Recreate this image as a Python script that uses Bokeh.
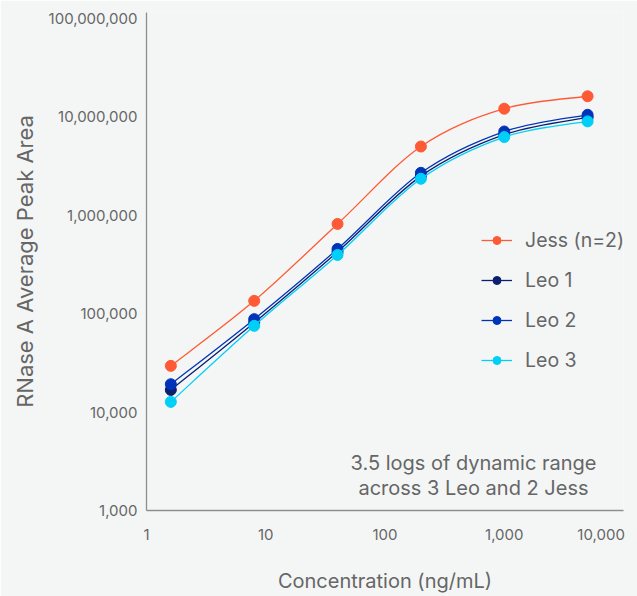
import numpy as np
from bokeh.plotting import figure
from bokeh.models import FixedTicker, NumeralTickFormatter, Legend, LegendItem, Label, Range1d
from bokeh.embed import file_html
from bokeh.resources import INLINE

# ---- data ----
concentration = [1.6, 8, 40, 200, 1000, 5000]          # ng/mL
jess = [29500, 135000, 817000, 5.0e6, 1.21e7, 1.62e7]
leo1 = [16800, 81000, 425000, 2.5e6, 6.6e6, 9.9e6]
leo2 = [19200, 88000, 455000, 2.7e6, 7.1e6, 1.05e7]
leo3 = [12700, 75300, 395000, 2.35e6, 6.24e6, 9.0e6]
series_names = ["Jess (n=2)", "Leo 1", "Leo 2", "Leo 3"]
series_colors = ["#FF5A36", "#0A1F6E", "#0033B8", "#00CFF8"]
x_ticks = [1, 10, 100, 1000, 10000]
y_ticks = [1e3, 1e4, 1e5, 1e6, 1e7, 1e8]
annotation = "3.5 logs of dynamic range\nacross 3 Leo and 2 Jess"

BG = "#F4F6F6"
TXT = "#666666"
FONT = "Inter"


def smooth_segments(xs, ys):
    """Catmull-Rom curve through the data points (in log space) as Bezier pieces."""
    lx = np.log10(np.asarray(xs, dtype=float))
    ly = np.log10(np.asarray(ys, dtype=float))
    px = np.concatenate([[lx[0]], lx, [lx[-1]]])
    py = np.concatenate([[ly[0]], ly, [ly[-1]]])
    seg = dict(x0=[], y0=[], x1=[], y1=[], cx0=[], cy0=[], cx1=[], cy1=[])
    for i in range(1, len(px) - 2):
        seg["x0"].append(10 ** px[i]); seg["y0"].append(10 ** py[i])
        seg["x1"].append(10 ** px[i + 1]); seg["y1"].append(10 ** py[i + 1])
        seg["cx0"].append(10 ** (px[i] + (px[i + 1] - px[i - 1]) / 6))
        seg["cy0"].append(10 ** (py[i] + (py[i + 1] - py[i - 1]) / 6))
        seg["cx1"].append(10 ** (px[i + 1] - (px[i + 2] - px[i]) / 6))
        seg["cy1"].append(10 ** (py[i + 1] - (py[i + 2] - py[i]) / 6))
    return seg


p = figure(width=637, height=596, x_axis_type="log", y_axis_type="log",
           x_range=Range1d(1, 10000), y_range=Range1d(1000, 1.15e8),
           output_backend="svg", toolbar_location=None,
           background_fill_color=BG, border_fill_color=BG,
           min_border_left=146, min_border_right=14, min_border_top=12, min_border_bottom=86)
p.outline_line_color = None
p.grid.visible = False

items = []
for name, vals, col in zip(series_names, [jess, leo1, leo2, leo3], series_colors):
    seg = smooth_segments(concentration, vals)
    r_line = p.bezier(x0=seg["x0"], y0=seg["y0"], x1=seg["x1"], y1=seg["y1"],
                      cx0=seg["cx0"], cy0=seg["cy0"], cx1=seg["cx1"], cy1=seg["cy1"],
                      line_color=col, line_width=1.3)
    r_pts = p.scatter(concentration, vals, size=11, fill_color=col, line_color=col)
    items.append(LegendItem(label=name, renderers=[r_line, r_pts]))

legend = Legend(items=items, location=(335, 138), orientation="vertical",
                glyph_width=31, glyph_height=20, label_height=20, label_standoff=13,
                spacing=16, padding=0, margin=0, border_line_color=None,
                background_fill_alpha=0, label_text_font=FONT,
                label_text_font_size="19.5px", label_text_color=TXT)
p.add_layout(legend)

for ax in (p.xaxis[0], p.yaxis[0]):
    ax.axis_line_color = "#8E8E8E"
    ax.axis_line_width = 1.3
    ax.major_tick_out = 0
    ax.major_tick_in = 0
    ax.minor_tick_out = 0
    ax.minor_tick_in = 0
    ax.major_label_text_font = FONT
    ax.major_label_text_font_size = "15px"
    ax.major_label_text_color = TXT
    ax.axis_label_text_font = FONT
    ax.axis_label_text_font_style = "normal"
    ax.axis_label_text_color = TXT
    ax.formatter = NumeralTickFormatter(format="0,0")

p.xaxis.ticker = FixedTicker(ticks=x_ticks)
# last tick label pulled left (inside the canvas) as in the reference
p.xaxis.major_label_overrides = {10000: "10,000" + "\u00a0" * 3}
p.xaxis.major_label_standoff = 14
p.xaxis.axis_label = "Concentration (ng/mL)"
p.xaxis.axis_label_text_font_size = "20px"
p.xaxis.axis_label_standoff = 22

p.yaxis.ticker = FixedTicker(ticks=y_ticks)
p.yaxis.major_label_standoff = 9
p.yaxis.axis_label = "RNase A Average Peak Area"
p.yaxis.axis_label_text_font_size = "22px"
p.yaxis.axis_label_standoff = 8

p.add_layout(Label(x=327, y=35, x_units="screen", y_units="screen", text=annotation,
                   text_align="center", text_baseline="middle", text_font=FONT,
                   text_font_size="20px", text_color=TXT, text_line_height=1.08))

open("out.html", "w").write(file_html(p, INLINE))
